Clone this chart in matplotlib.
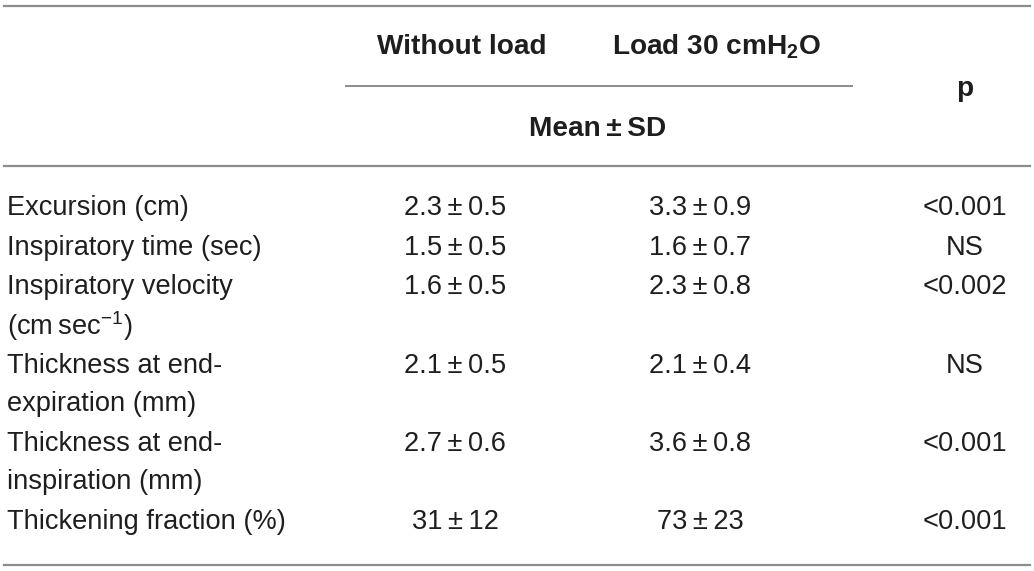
import matplotlib
matplotlib.use('Agg')
import matplotlib.pyplot as plt

plt.rcParams['font.family'] = ['Liberation Sans', 'DejaVu Sans']
plt.rcParams['mathtext.fontset'] = 'custom'
plt.rcParams['mathtext.rm'] = 'Liberation Sans'
plt.rcParams['mathtext.it'] = 'Liberation Sans'
plt.rcParams['mathtext.bf'] = 'Liberation Sans:bold'

group_headers = ['Without load', 'Load 30 cmH$_\\mathbf{2}$O']
stat_header = 'Mean\u2009±\u2009SD'
p_header = 'p'

row_labels = [
    ['Excursion (cm)'],
    ['Inspiratory time (sec)'],
    ['Inspiratory velocity', '(cm\u2009sec$^{\u22121}$)'],
    ['Thickness at end-', 'expiration (mm)'],
    ['Thickness at end-', 'inspiration (mm)'],
    ['Thickening fraction (%)'],
]
without_load = ['2.3\u2009±\u20090.5', '1.5\u2009±\u20090.5', '1.6\u2009±\u20090.5',
                '2.1\u2009±\u20090.5', '2.7\u2009±\u20090.6', '31\u2009±\u200912']
load_30 = ['3.3\u2009±\u20090.9', '1.6\u2009±\u20090.7', '2.3\u2009±\u20090.8',
           '2.1\u2009±\u20090.4', '3.6\u2009±\u20090.8', '73\u2009±\u200923']
p_values = ['<0.001', 'NS', '<0.002', 'NS', '<0.001', '<0.001']

W, H = 1034, 571
fig = plt.figure(figsize=(W / 100, H / 100), dpi=100)
ax = fig.add_axes([0, 0, 1, 1])
ax.set_xlim(0, W)
ax.set_ylim(H, 0)
ax.axis('off')

fs = 19.6
fs_head = 20.2
txt = '#1e1e1e'
rule = '#8c8c8c'

# rules
ax.plot([4, 1030], [6, 6], color=rule, lw=1.6)
ax.plot([346, 852], [86, 86], color=rule, lw=1.4)
ax.plot([4, 1030], [166, 166], color=rule, lw=1.6)
ax.plot([4, 1030], [565, 565], color=rule, lw=1.6)

# header
ax.text(462, 47, group_headers[0], ha='center', va='center', fontsize=fs_head, fontweight='bold', color=txt)
ax.text(716, 47, group_headers[1], ha='center', va='center', fontsize=fs_head, fontweight='bold', color=txt)
ax.text(598, 129, stat_header, ha='center', va='center', fontsize=fs_head, fontweight='bold', color=txt)
ax.text(965, 89, p_header, ha='center', va='center', fontsize=fs_head, fontweight='bold', color=txt)

# body
line_h = 38.5
y = 208
for lab, a, b, p in zip(row_labels, without_load, load_30, p_values):
    ax.text(455, y, a, ha='center', va='center', fontsize=fs, color=txt)
    ax.text(700, y, b, ha='center', va='center', fontsize=fs, color=txt)
    ax.text(965, y, p, ha='center', va='center', fontsize=fs, color=txt)
    for k, s in enumerate(lab):
        ax.text(7, y + k * line_h, s, ha='left', va='center', fontsize=fs, color=txt)
    y += line_h * len(lab) + 1.2

fig.savefig('out.png', dpi=100)
